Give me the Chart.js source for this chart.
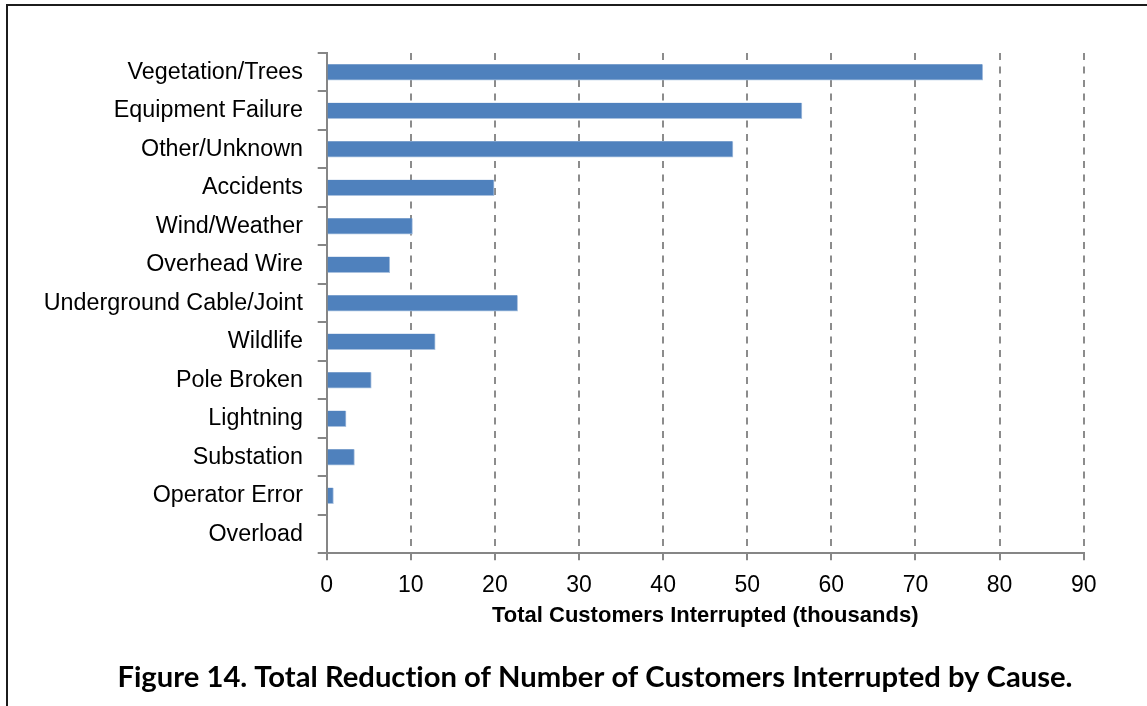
<!DOCTYPE html>
<html>
<head>
<meta charset="utf-8">
<script src="https://cdn.jsdelivr.net/npm/chart.js@4/dist/chart.umd.min.js"></script>
<style>
  html, body { margin: 0; padding: 0; background: #fff; overflow: hidden; width: 1147px; height: 706px; }
  #frame { position: absolute; left: 6px; top: 4px; width: 1174px; height: 700px;
           border-top: 2px solid #1c1c1c; border-left: 2px solid #1c1c1c; background: #fff; }
  #frame canvas { display: block; }
</style>
</head>
<body>
<div id="frame"><canvas id="chart" width="1174" height="700"></canvas></div>
<script>
// Outage causes, top to bottom
const causes = [
  'Vegetation/Trees', 'Equipment Failure', 'Other/Unknown', 'Accidents',
  'Wind/Weather', 'Overhead Wire', 'Underground Cable/Joint', 'Wildlife',
  'Pole Broken', 'Lightning', 'Substation', 'Operator Error', 'Overload'
];
// Customers interrupted, in thousands
const customersInterrupted = [78.0, 56.5, 48.3, 19.9, 10.2, 7.5, 22.7, 12.9, 5.3, 2.3, 3.3, 0.8, 0];
// Horizontal axis range and step
const axisMin = 0;
const axisMax = 90;
const axisStep = 10;

const axisTitle = 'Total Customers Interrupted (thousands)';
const caption = 'Figure 14. Total Reduction of Number of Customers Interrupted by Cause.';

const sans = "'Liberation Sans', Arial, sans-serif";
const axisGray = '#868686';

// The caption spans the whole framed box, not just the plot's column
const fullWidthCaption = {
  id: 'fullWidthCaption',
  afterLayout(chart) {
    const t = chart.titleBlock;
    if (t) {
      t.left = 0;
      t.right = chart.width;
      t.width = chart.width;
    }
  },
  beforeDraw(chart) {
    // a hair of tracking keeps "ti" from fusing into a ligature
    if ('letterSpacing' in chart.ctx) chart.ctx.letterSpacing = '0.01px';
  }
};

new Chart(document.getElementById('chart'), {
  type: 'bar',
  data: {
    labels: causes,
    datasets: [{
      data: customersInterrupted,
      backgroundColor: '#4F81BD',
      borderColor: '#a9c1df',
      borderWidth: { top: 0, left: 0, right: 1, bottom: 1 },
      borderSkipped: false,
      barThickness: 16
    }]
  },
  plugins: [fullWidthCaption],
  options: {
    indexAxis: 'y',
    responsive: false,
    animation: false,
    events: [],
    layout: { padding: { top: 47, right: 98.3, bottom: 0, left: 0 } },
    plugins: {
      legend: { display: false },
      tooltip: { enabled: false },
      title: {
        display: true,
        position: 'bottom',
        text: caption,
        color: '#000',
        font: { family: 'Lato', weight: 'bold', size: 29.2, lineHeight: 1.2 },
        padding: { top: 8, bottom: 11 }
      }
    },
    scales: {
      x: {
        min: axisMin,
        max: axisMax,
        afterFit: s => { s.height = 98.6; },
        ticks: {
          stepSize: axisStep,
          color: '#000',
          padding: 11,
          font: { family: sans, size: 23, lineHeight: 1.2 }
        },
        grid: {
          color: '#8c8c8c',
          lineWidth: 2,
          drawTicks: true,
          tickLength: 7,
          tickColor: axisGray,
          tickBorderDash: []
        },
        border: { display: true, color: axisGray, width: 2, dash: [7, 6.5] },
        title: {
          display: true,
          text: axisTitle,
          color: '#000',
          font: { family: sans, size: 22, weight: 'bold', lineHeight: 1.2 },
          padding: { top: 0, bottom: 22.4 }
        }
      },
      y: {
        afterFit: s => { s.width = 318.7; },
        ticks: {
          color: '#000',
          padding: 14.7,
          font: { family: sans, size: 23.3 }
        },
        grid: {
          offset: true,
          drawOnChartArea: false,
          drawTicks: true,
          tickLength: 9,
          color: axisGray,
          lineWidth: 2
        },
        border: { display: true, color: axisGray, width: 2 }
      }
    }
  }
});
</script>
</body>
</html>
